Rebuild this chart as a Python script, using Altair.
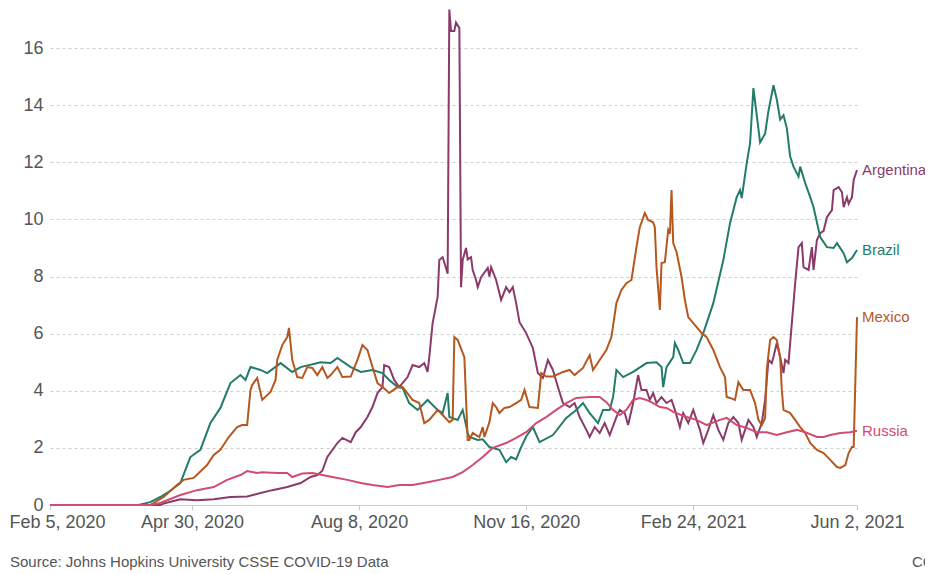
import altair as alt
import pandas as pd

START = pd.Timestamp("2020-02-05")

arg_days = [0, 66, 68, 78, 88, 98, 108, 118, 126, 133, 142, 150, 156, 160, 163, 166, 172, 175, 180, 183, 186, 190, 193, 196, 199, 200, 203, 206, 209, 214, 217, 221, 224, 226, 227, 229, 232, 233, 235, 237, 238, 239, 240, 242, 243, 245, 246, 247, 249, 250, 252, 253, 255, 256, 258, 262, 263, 264, 267, 270, 273, 275, 277, 279, 281, 285, 289, 292, 295, 298, 301, 304, 307, 311, 314, 317, 321, 323, 326, 329, 332, 335, 339, 341, 344, 346, 349, 352, 354, 357, 359, 361, 363, 366, 369, 372, 374, 377, 379, 382, 385, 389, 391, 394, 397, 400, 403, 406, 409, 412, 414, 416, 418, 421, 423, 426, 428, 430, 432, 433, 435, 437, 439, 440, 442, 444, 446, 448, 450, 451, 454, 456, 457, 459, 461, 463, 465, 468, 469, 472, 474, 475, 477, 478, 480, 481, 483]
arg_vals = [0, 0, 0.05, 0.2, 0.17, 0.2, 0.28, 0.3, 0.42, 0.52, 0.63, 0.77, 0.98, 1.05, 1.2, 1.68, 2.17, 2.35, 2.2, 2.55, 2.73, 3.08, 3.43, 3.92, 4.13, 4.9, 4.83, 4.38, 4.13, 4.48, 4.9, 4.83, 4.97, 4.66, 5.18, 6.37, 7.28, 8.58, 8.68, 8.3, 8.1, 17.35, 16.6, 16.6, 16.9, 16.7, 7.63, 8.58, 9.0, 8.6, 8.68, 8.23, 7.88, 7.63, 7.98, 8.3, 8.0, 8.33, 7.88, 7.18, 7.63, 7.45, 7.63, 7.07, 6.4, 6.02, 5.5, 4.62, 4.45, 5.08, 4.73, 4.13, 3.57, 3.43, 3.57, 3.08, 2.63, 2.38, 2.73, 2.52, 2.87, 2.45, 3.08, 3.33, 3.22, 2.8, 3.57, 4.55, 4.03, 4.03, 3.68, 3.92, 3.57, 3.78, 3.57, 3.68, 3.33, 2.73, 3.22, 2.87, 3.33, 2.63, 2.17, 2.63, 3.15, 2.63, 2.28, 2.87, 3.08, 2.87, 2.28, 2.63, 2.98, 2.73, 2.38, 2.87, 3.68, 5.08, 4.97, 5.18, 5.67, 5.18, 4.62, 5.08, 4.97, 6.37, 7.77, 9.03, 9.17, 8.33, 8.23, 9.03, 8.23, 9.28, 9.52, 9.6, 10.08, 10.33, 11.03, 11.13, 10.95, 10.43, 10.78, 10.55, 10.78, 11.38, 11.73]

bra_days = [0, 53, 60, 66, 72, 78, 84, 90, 96, 102, 108, 114, 117, 120, 126, 130, 138, 145, 150, 162, 168, 172, 180, 186, 193, 199, 203, 208, 211, 215, 220, 226, 232, 235, 238, 239, 244, 247, 250, 251, 256, 259, 263, 269, 273, 276, 279, 282, 285, 289, 293, 301, 309, 315, 319, 323, 328, 331, 335, 337, 339, 343, 349, 357, 363, 366, 367, 369, 373, 374, 376, 379, 383, 387, 391, 397, 403, 407, 411, 413, 414, 417, 419, 421, 425, 428, 430, 433, 435, 437, 439, 441, 443, 445, 448, 449, 452, 455, 457, 461, 465, 469, 471, 475, 477, 480, 483]
bra_vals = [0, 0, 0.1, 0.28, 0.5, 0.77, 1.68, 1.93, 2.87, 3.4, 4.27, 4.55, 4.38, 4.83, 4.73, 4.62, 4.97, 4.66, 4.83, 5.0, 4.97, 5.15, 4.83, 4.66, 4.73, 4.62, 4.38, 4.13, 4.1, 3.57, 3.33, 3.68, 3.33, 3.22, 3.92, 3.08, 2.98, 3.33, 2.52, 2.38, 2.28, 2.3, 2.03, 1.93, 1.5, 1.68, 1.6, 2.03, 2.4, 2.73, 2.2, 2.45, 3.05, 3.33, 3.57, 3.22, 2.87, 3.33, 3.33, 3.78, 4.73, 4.48, 4.66, 4.97, 5.0, 4.83, 4.13, 4.83, 5.18, 5.67, 5.43, 4.97, 4.97, 5.43, 6.02, 7.07, 8.58, 9.87, 10.78, 11.03, 10.75, 11.97, 12.67, 14.6, 12.7, 13.0, 13.8, 14.7, 14.2, 13.5, 13.65, 13.2, 12.2, 11.85, 11.5, 11.85, 11.27, 10.78, 10.43, 9.38, 9.03, 9.0, 9.17, 8.82, 8.5, 8.65, 8.93]

mex_days = [0, 60, 68, 76, 80, 86, 94, 98, 102, 107, 112, 115, 118, 120, 121, 124, 127, 132, 135, 136, 139, 142, 143, 145, 148, 151, 154, 157, 160, 163, 166, 168, 172, 175, 180, 184, 187, 190, 193, 196, 199, 203, 208, 211, 217, 221, 224, 227, 232, 235, 239, 241, 242, 244, 248, 250, 251, 253, 257, 259, 260, 263, 265, 267, 269, 272, 275, 279, 282, 284, 287, 292, 294, 297, 301, 307, 311, 314, 319, 323, 325, 329, 333, 336, 339, 342, 345, 348, 351, 353, 356, 358, 361, 362, 363, 365, 366, 368, 370, 371, 372, 373, 375, 378, 380, 382, 387, 390, 393, 397, 401, 404, 405, 407, 410, 412, 415, 419, 422, 424, 426, 428, 429, 431, 433, 435, 437, 438, 439, 443, 446, 449, 452, 455, 459, 463, 467, 471, 473, 476, 478, 480, 481, 483]
mex_vals = [0, 0, 0.28, 0.7, 0.88, 0.95, 1.4, 1.75, 1.93, 2.38, 2.73, 2.8, 2.8, 4.03, 4.2, 4.45, 3.68, 3.96, 4.38, 5.08, 5.6, 5.88, 6.2, 5.08, 4.48, 4.45, 4.83, 4.8, 4.55, 4.83, 4.45, 4.55, 4.83, 4.48, 4.5, 5.08, 5.6, 5.43, 4.83, 4.27, 4.13, 3.92, 4.13, 4.13, 3.68, 3.57, 2.87, 2.98, 3.33, 3.15, 2.9, 2.98, 5.88, 5.78, 5.18, 2.28, 2.28, 2.52, 2.38, 2.73, 2.38, 2.9, 3.57, 3.43, 3.22, 3.4, 3.43, 3.57, 3.68, 4.03, 3.43, 3.4, 4.62, 4.5, 4.5, 4.66, 4.73, 4.55, 4.8, 5.25, 4.73, 5.08, 5.43, 5.88, 7.07, 7.53, 7.77, 7.88, 9.03, 9.73, 10.22, 9.98, 9.9, 9.73, 8.33, 6.83, 8.47, 8.5, 9.63, 9.5, 11.03, 9.17, 8.86, 7.98, 7.18, 6.58, 6.23, 6.02, 5.88, 5.43, 4.83, 4.48, 3.78, 3.75, 3.68, 4.3, 4.03, 4.03, 3.57, 2.98, 2.8, 3.05, 4.73, 5.78, 5.88, 5.78, 5.18, 4.03, 3.33, 3.22, 2.98, 2.73, 2.52, 2.17, 1.93, 1.82, 1.58, 1.33, 1.3, 1.4, 1.82, 2.03, 2.03, 6.58]

rus_days = [0, 60, 66, 78, 88, 98, 106, 114, 118, 124, 127, 136, 142, 145, 151, 157, 163, 169, 178, 186, 193, 202, 209, 217, 226, 233, 241, 247, 253, 259, 265, 273, 279, 285, 291, 297, 303, 309, 315, 323, 329, 333, 337, 341, 345, 349, 353, 357, 361, 365, 369, 373, 381, 387, 393, 401, 405, 411, 417, 423, 429, 435, 441, 447, 452, 459, 463, 467, 473, 479, 483]
rus_vals = [0, 0, 0.07, 0.35, 0.52, 0.63, 0.88, 1.05, 1.19, 1.12, 1.15, 1.12, 1.12, 0.98, 1.1, 1.12, 1.05, 0.98, 0.88, 0.77, 0.7, 0.63, 0.7, 0.7, 0.8, 0.88, 0.98, 1.15, 1.4, 1.68, 2.0, 2.17, 2.35, 2.55, 2.87, 3.08, 3.33, 3.57, 3.75, 3.78, 3.78, 3.6, 3.33, 3.15, 3.33, 3.68, 3.75, 3.68, 3.57, 3.43, 3.4, 3.26, 3.08, 2.98, 2.8, 2.98, 3.05, 2.8, 2.7, 2.55, 2.55, 2.45, 2.55, 2.63, 2.55, 2.38, 2.38, 2.45, 2.52, 2.55, 2.6]

countries = ["Argentina", "Brazil", "Mexico", "Russia"]
colors = ["#8b3a6a", "#237c6a", "#b5581f", "#d14c6e"]
tick_dates = ["2020-02-05", "2020-04-30", "2020-08-08", "2020-11-16", "2021-02-24", "2021-06-02"]
source_text = "Source: Johns Hopkins University CSSE COVID-19 Data"
credit_text = "CC BY"

series = {
    "Argentina": (arg_days, arg_vals),
    "Brazil": (bra_days, bra_vals),
    "Mexico": (mex_days, mex_vals),
    "Russia": (rus_days, rus_vals),
}
rows = []
for name, (ds, vs) in series.items():
    for d, v in zip(ds, vs):
        rows.append({"country": name,
                     "date": (START + pd.Timedelta(days=d)).strftime("%Y-%m-%dT00:00:00"),
                     "value": v})
df = pd.DataFrame(rows)
last = df.groupby("country").tail(1)

FONT = "Liberation Sans"

def dt(s):
    y, m, d = (int(p) for p in s.split("-"))
    return alt.DateTime(year=y, month=m, date=d)

x_enc = alt.X("date:T",
              scale=alt.Scale(domain=[dt(tick_dates[0]), dt(tick_dates[-1])]),
              axis=alt.Axis(values=[dt(t) for t in tick_dates], format="%b %-d, %Y",
                            labelOverlap=False, labelFlush=False,
                            labelOffset=alt.condition("datum.value < datetime(2020, 1, 10)",
                                                      alt.value(7), alt.value(0)),
                            title=None, grid=False, domain=True, domainColor="#cccccc",
                            tickColor="#cccccc", tickSize=5, labelPadding=3,
                            labelFontSize=18, labelColor="#555555", labelFont=FONT))
y_enc = alt.Y("value:Q",
              scale=alt.Scale(domain=[0, 17.37], nice=False),
              axis=alt.Axis(values=list(range(0, 17, 2)), title=None, domain=False,
                            ticks=False, labelPadding=7, labelFontSize=18,
                            labelColor="#555555", labelFont=FONT,
                            grid=True, gridColor="#cccccc", gridDash=[3, 3], gridWidth=1))
color_enc = alt.Color("country:N", scale=alt.Scale(domain=countries, range=colors), legend=None)

base = alt.Chart(df)
lines = base.mark_line(strokeWidth=2, clip=False).encode(x=x_enc, y=y_enc, color=color_enc, detail="country:N")
labels = alt.Chart(last).mark_text(align="left", baseline="middle", dx=5, fontSize=15, font=FONT).encode(
    x="date:T", y="value:Q", text="country:N", color=color_enc)
notes = alt.Chart(pd.DataFrame({"t": [source_text, credit_text], "px": [-40, 862]})).mark_text(
    align="left", baseline="middle", fontSize=15, font=FONT, color="#555555").encode(
    x=alt.X("px:Q", scale=None), y=alt.value(553), text="t:N")

chart = (lines + labels + notes).properties(
    width=807, height=496,
    padding={"left": 42, "top": 1, "right": 68, "bottom": 66},
    autosize=alt.AutoSizeParams(type="none"),
).configure_view(stroke=None)

chart.save("out.html", embed_options={"renderer": "svg", "actions": False})
